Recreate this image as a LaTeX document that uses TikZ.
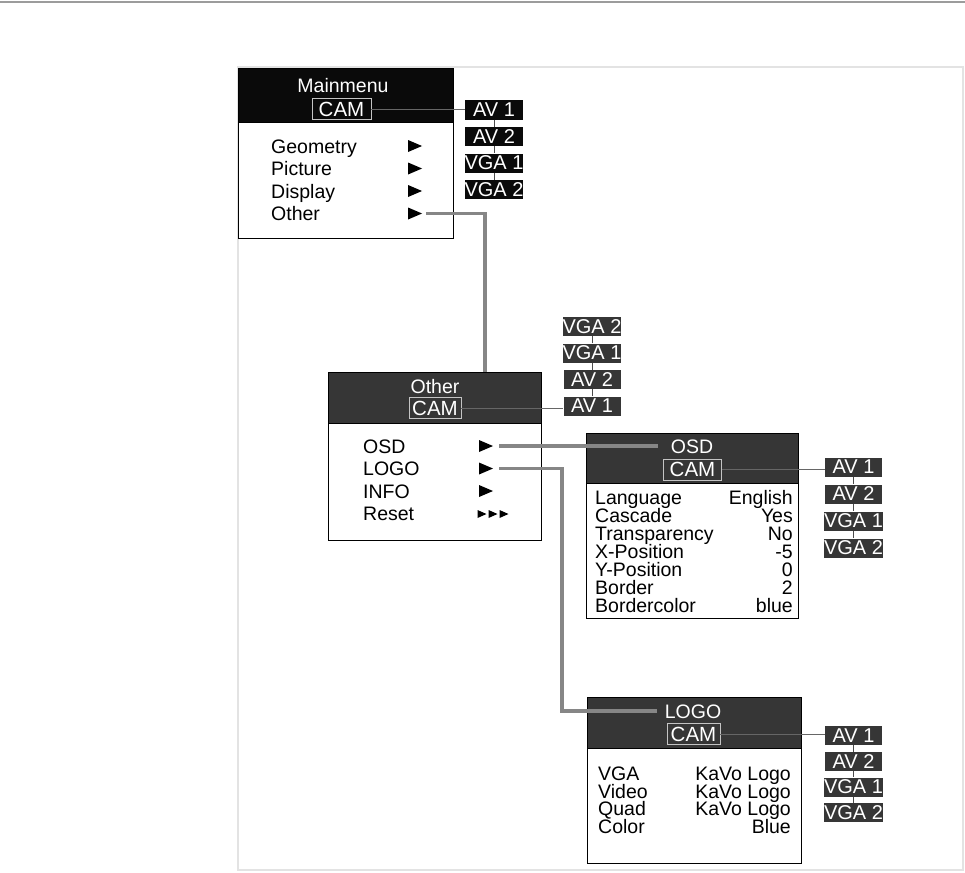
\documentclass[tikz,border=0pt]{standalone}
\usepackage{fontspec}
\setmainfont{Liberation Sans}
\usetikzlibrary{positioning}
\definecolor{menublack}{HTML}{0A0A0A}
\definecolor{menugrey}{HTML}{363636}
\definecolor{linkgrey}{HTML}{868686}
\definecolor{camedge}{HTML}{C4C4C4}
\definecolor{framesoft}{HTML}{E3E3E3}
\definecolor{rulegrey}{HTML}{9C9C9C}

\begin{document}
\begin{tikzpicture}[
    x=1pt, y=-1pt,
    every node/.style={inner sep=0pt},
    menubody/.style={
        draw=black, line width=1.3pt, fill=white,
        anchor=north west
    },
    menuhead/.style={
        draw=black, line width=1.3pt, fill=#1,
        anchor=north west
    },
    menutitle/.style={font=\fontsize{19.5}{19.5}\selectfont, text=white},
    cambox/.style={
        draw=camedge, line width=0.8pt, fill=#1,
        minimum width=55pt, minimum height=21pt,
        font=\fontsize{20.5}{20.5}\selectfont, text=white
    },
    srcbox/.style={
        fill=#1, minimum width=58pt, minimum height=19pt,
        font=\fontsize{20}{20}\selectfont, text=white
    },
    item/.style={font=\fontsize{19.5}{19.5}\selectfont, anchor=base west},
    value/.style={font=\fontsize{19.5}{19.5}\selectfont, anchor=base east},
    pics/pointer/.style={code={
        \fill (-7pt,-6pt) -- (7pt,0pt) -- (-7pt,6pt) -- cycle;
        \coordinate (-tip) at (7pt,0pt);
    }},
    pics/minipointer/.style={code={
        \fill (-4.5pt,-4pt) -- (4.5pt,0pt) -- (-4.5pt,4pt) -- cycle;
    }},
    link/.style={draw=linkgrey, line width=3.5pt},
    camlink/.style={draw=black!60, line width=0.8pt},
    stacklink/.style={draw=black!70, line width=0.8pt},
]

% === page frame ===
\useasboundingbox (0,0) rectangle (965,872);
\draw[rulegrey, line width=1.5pt] (0,2) -- (965,2);
\draw[framesoft, line width=1.5pt] (238,67) rectangle (963,870);

% === Mainmenu ===
\node[menubody, minimum width=215pt, minimum height=170pt] (mm) at (238,68) {};
\node[menuhead=menublack, minimum width=215pt, minimum height=54pt] (mmhead) at (mm.north west) {};
\node[menutitle] (mmtitle) at (343,86) {Mainmenu};
\node[cambox=menublack, minimum width=59pt] (mmcam) at (341.5,109) {CAM};

\foreach \txt [count=\i] in {Geometry, Picture, Display, Other} {
    \node[item] (mmitem\i) at (271, 130.5+22.5*\i) {\txt};
    \pic (mmptr\i) at (415, 123.5+22.5*\i) {pointer};
}

% sources of the main menu
\foreach \src [count=\i] in {AV 1, AV 2, VGA 1, VGA 2} {
    \node[srcbox=menublack] (mmsrc\i) at (494, 83.5+26.5*\i) {\src};
}
\foreach \i/\j in {1/2, 2/3, 3/4} {
    \draw[stacklink] (mmsrc\i.south) -- (mmsrc\j.north);
}
\draw[camlink] (mmcam.east) -- (mmcam.east -| mmsrc1.west);

% === Other ===
\node[menubody, minimum width=213pt, minimum height=168pt] (oth) at (328,372) {};
\node[menuhead=menugrey, minimum width=213pt, minimum height=51pt] (othhead) at (oth.north west) {};
\node[menutitle] (othtitle) at (435,387) {Other};
\node[cambox=menugrey, minimum width=52pt] (othcam) at (435,408) {CAM};

\foreach \txt [count=\i] in {OSD, LOGO, INFO, Reset} {
    \node[item] (othitem\i) at (363, 430.5+22.5*\i) {\txt};
}
\foreach \i in {1,2,3} {
    \pic (othptr\i) at (486, 423.5+22.5*\i) {pointer};
}
\foreach \x in {482, 493, 504} {
    \pic at (\x,514) {minipointer};
}

% sources of Other (stacked upwards)
\foreach \src [count=\i] in {AV 1, AV 2, VGA 1, VGA 2} {
    \node[srcbox=menugrey, minimum width=57pt] (othsrc\i) at (592, 432.5-26.5*\i) {\src};
}
\foreach \i/\j in {1/2, 2/3, 3/4} {
    \draw[stacklink] (othsrc\i.north) -- (othsrc\j.south);
}
\draw[camlink] (othcam.east) -- (othcam.east -| othsrc1.west);

% === OSD ===
\node[menubody, minimum width=212pt, minimum height=185pt] (osd) at (586,433) {};
\node[menuhead=menugrey, minimum width=212pt, minimum height=50pt] (osdhead) at (osd.north west) {};
\node[menutitle] (osdtitle) at (692,447) {OSD};
\node[cambox=menugrey, minimum width=58pt] (osdcam) at (692.5,469.5) {CAM};

\foreach \key/\val [count=\i] in {Language/English, Cascade/Yes, Transparency/No,
        X-Position/-5, Y-Position/0, Border/2, Bordercolor/blue} {
    \node[item] (osdkey\i) at (595, 486+18*\i) {\key};
    \node[value] (osdval\i) at (793, 486+18*\i) {\val};
}

\foreach \src [count=\i] in {AV 1, AV 2, VGA 1, VGA 2} {
    \node[srcbox=menugrey, minimum width=57pt] (osdsrc\i) at (853.5, 440+27*\i) {\src};
}
\foreach \i/\j in {1/2, 2/3, 3/4} {
    \draw[stacklink] (osdsrc\i.south) -- (osdsrc\j.north);
}
\draw[camlink] (osdcam.east) -- (osdcam.east -| osdsrc1.west);

% === LOGO ===
\node[menubody, minimum width=214pt, minimum height=166pt] (logo) at (587,697) {};
\node[menuhead=menugrey, minimum width=214pt, minimum height=51pt] (logohead) at (logo.north west) {};
\node[menutitle] (logotitle) at (693,712) {LOGO};
\node[cambox=menugrey, minimum width=53pt] (logocam) at (693.5,734) {CAM};

\foreach \key/\val [count=\i] in {VGA/KaVo Logo, Video/KaVo Logo, Quad/KaVo Logo, Color/Blue} {
    \node[item] (logokey\i) at (598, 763+17.6*\i) {\key};
    \node[value] (logoval\i) at (791, 763+17.6*\i) {\val};
}

\foreach \src [count=\i] in {AV 1, AV 2, VGA 1, VGA 2} {
    \node[srcbox=menugrey, minimum width=57pt] (logosrc\i) at (853.5, 710+25.7*\i) {\src};
}
\foreach \i/\j in {1/2, 2/3, 3/4} {
    \draw[stacklink] (logosrc\i.south) -- (logosrc\j.north);
}
\draw[camlink] (logocam.east) -- (logocam.east -| logosrc1.west);

% === menu links ===
\coordinate (othin) at (485,372);
\coordinate (osdin) at (658,446);
\coordinate (logoturn) at (562,711);
\coordinate (logoin) at (657,711);

\draw[link] ([xshift=4pt]mmptr4-tip) -| (othin);
\draw[link] ([xshift=6pt]othptr1-tip) -- (osdin);
\draw[link] ([xshift=6pt]othptr2-tip) -| (logoturn) -- (logoin);

\end{tikzpicture}
\end{document}
